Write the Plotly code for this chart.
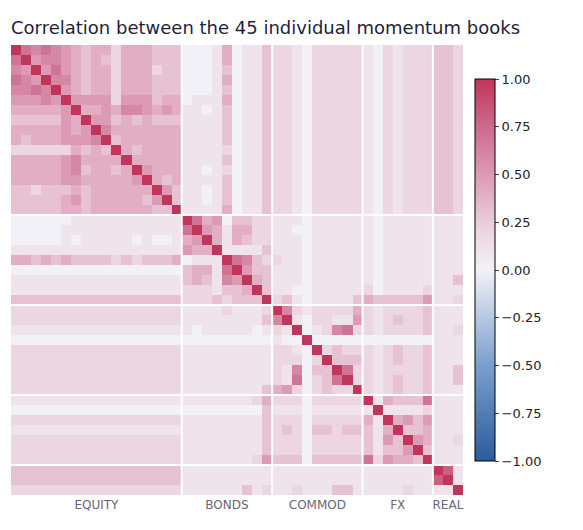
import numpy as np
import plotly.graph_objects as go

# block names and sizes
groups = ['EQUITY', 'BONDS', 'COMMOD', 'FX', 'REAL']
sizes = [17, 9, 9, 7, 3]

# lower triangle of the correlation matrix, digit = tenths, X = 1.0
rows = [
    "X",
    "7X",
    "65X",
    "765X",
    "6676X",
    "55565X",
    "444445X",
    "3333354X",
    "44444545X",
    "434445556X",
    "2222224343X",
    "44444564444X",
    "444445634434X",
    "4444455444445X",
    "33233343444444X",
    "333334534444435X",
    "3333344344444433X",
    # bonds
    "00000011111111111" + "X",
    "00000111111111111" + "7X",
    "00000101111101001" + "45X",
    "11111111111111111" + "544X",
    "44343433332323334" + "0111X",
    "00000000000000000" + "34417X",
    "11111111111111111" + "343165X",
    "11111111111111111" + "2221334X",
    "33333333333333333" + "22232333X",
    # commod
    "22222222222222222" + "111121112" + "X",
    "22222222222222222" + "111111113" + "6X",
    "11111111111111111" + "101111101" + "21X",
    "00000000000000000" + "000000000" + "100X",
    "22222222222222222" + "111111111" + "2210X",
    "22222222222222222" + "111111111" + "22202X",
    "22222222222222222" + "111111111" + "216033X",
    "22222222222222222" + "111111111" + "2170237X",
    "22222222222222222" + "111111113" + "45202322X",
    # fx
    "11111111111111111" + "111111124" + "222022222" + "X",
    "00000000000000000" + "000000003" + "111011111" + "1X",
    "22222222222222222" + "111111113" + "222022222" + "41X",
    "11111111111111111" + "111111113" + "232033233" + "314X",
    "22222222222222222" + "111111113" + "222022222" + "3153X",
    "22222222222222222" + "111111113" + "222022222" + "31335X",
    "22222222222222222" + "111111125" + "333033333" + "725443X",
    # real
    "33333333333333333" + "111111111" + "111111111" + "1111111" + "X",
    "33333333333333333" + "111111111" + "111111111" + "1111111" + "8X",
    "22222222222222222" + "111111312" + "112111331" + "1111211" + "11X",
]

n = len(rows)
corr = np.zeros((n, n))
for i, r in enumerate(rows):
    for j, c in enumerate(r):
        v = 1.0 if c == 'X' else int(c) / 10
        corr[i, j] = v
        corr[j, i] = v

bounds = np.cumsum([0] + sizes)
centers = [(bounds[k] + bounds[k + 1] - 1) / 2 for k in range(len(sizes))]

colorscale = [[0, '#2b5c9c'], [0.25, '#7a9fcc'], [0.5, '#f2f1f7'], [0.6, '#ecd6e1'],
              [0.75, '#dc9ab5'], [0.875, '#cd6a8d'], [1, '#c0355a']]

fig = go.Figure(go.Heatmap(
    z=corr, zmin=-1, zmax=1, colorscale=colorscale,
    colorbar=dict(x=1.027, xanchor='left', xpad=0, len=0.89, thickness=20,
                  tickvals=[1, 0.75, 0.5, 0.25, 0, -0.25, -0.5, -0.75, -1], tickformat='.2f',
                  outlinecolor='black', outlinewidth=1, ticks='outside', ticklen=4,
                  tickfont=dict(size=13, color='#222')),
))

for b in bounds[1:-1]:
    fig.add_shape(type='line', x0=b - 0.5, x1=b - 0.5, y0=-0.5, y1=n - 0.5, line=dict(color='white', width=2))
    fig.add_shape(type='line', y0=b - 0.5, y1=b - 0.5, x0=-0.5, x1=n - 0.5, line=dict(color='white', width=2))

fig.update_layout(
    width=583, height=530,
    margin=dict(l=3, r=128, t=36, b=42),
    title=dict(text='Correlation between the 45 individual momentum books', x=3 / 583, xanchor='left',
               y=0.975, font=dict(size=18, color='#1f1f3a')),
    plot_bgcolor='white', paper_bgcolor='white',
    font=dict(family='DejaVu Sans'),
)
fig.update_xaxes(tickvals=centers, ticktext=groups, showgrid=False, zeroline=False, ticks='',
                 tickfont=dict(size=12, color='#667'), range=[-0.5, n - 0.5])
fig.update_yaxes(showticklabels=False, showgrid=False, zeroline=False, autorange='reversed')

fig.write_html("out.html")
